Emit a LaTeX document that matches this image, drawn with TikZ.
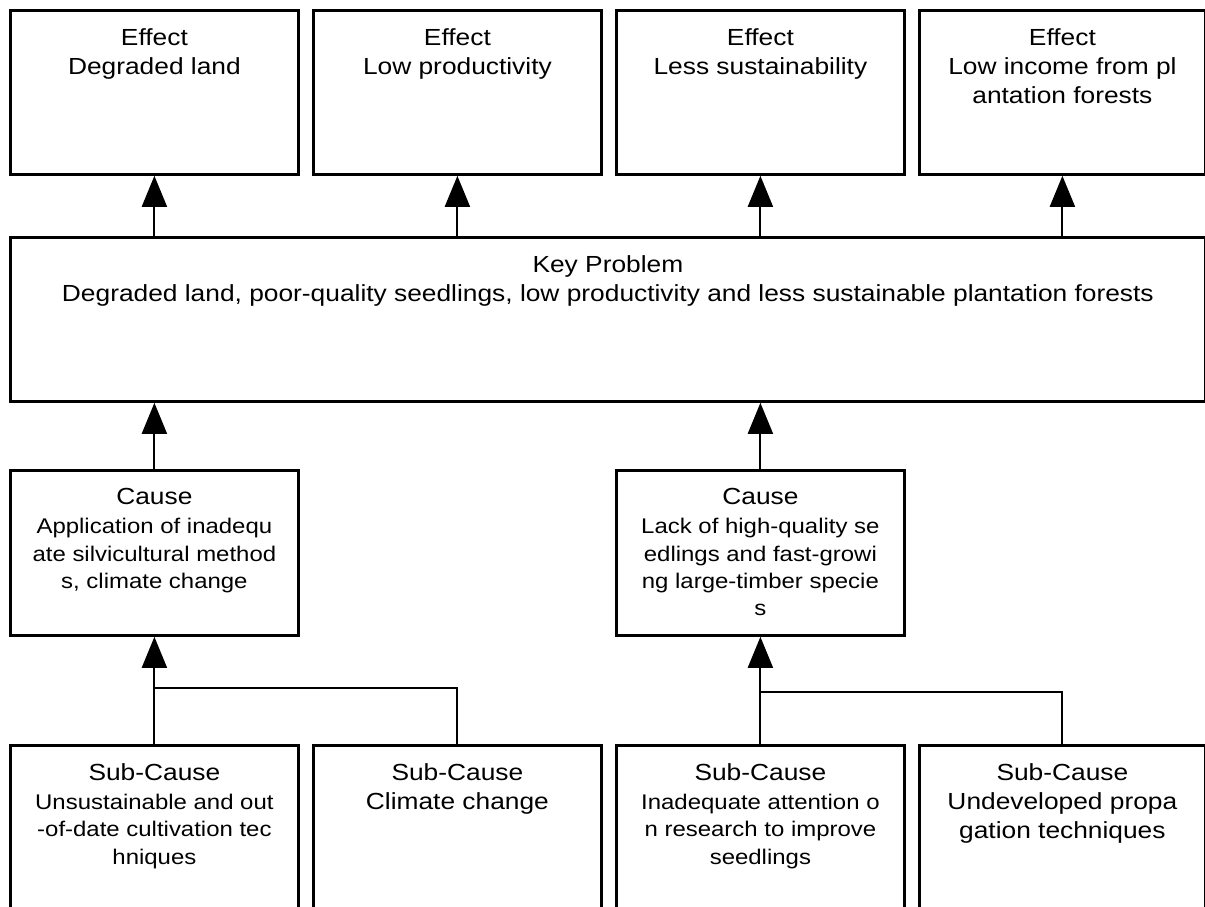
\documentclass[tikz,border=0pt]{standalone}
\usepackage{fontspec}
\setmainfont{Liberation Sans}[FakeStretch=1.13]
\usetikzlibrary{arrows.meta, positioning, calc}

\newcommand{\smtxt}{\fontsize{10.6}{13.6}\selectfont}

\tikzset{
  box/.style={draw, line width=1.4pt, anchor=north west, inner sep=0pt,
    minimum width=144pt, minimum height=82pt,
    label={[boxtext]north:#1}},
  boxtext/.style={anchor=north, align=center, inner sep=0pt, yshift=-9.5pt,
    font=\fontsize{11.65}{14.5}\selectfont},
  conn/.style={line width=1pt},
  arr/.style={conn, -{Triangle[width=12.5pt, length=15.5pt]}},
}

\begin{document}
\begin{tikzpicture}[x=0.5pt, y=-0.5pt]
    \useasboundingbox (0,0) rectangle (1205,906);
    \clip (0,0) rectangle (1205,906);

    % effects
    \node[box={Effect\\Degraded land}] (eff1) at (9,9) {};
    \node[box={Effect\\Low productivity}] (eff2) at (312,9) {};
    \node[box={Effect\\Less sustainability}] (eff3) at (615,9) {};
    \node[box={Effect\\Low income from pl\\antation forests}, minimum width=143pt] (eff4) at (918,9) {};

    % key problem
    \node[box={Key Problem\\Degraded land, poor-quality seedlings, low productivity and less sustainable plantation forests},
        minimum width=597.5pt] (key) at (9,236) {};

    % causes
    \node[box={Cause\\\smtxt Application of inadequ\\[-0.8pt]\smtxt ate silvicultural method\\[-0.8pt]\smtxt s, climate change},
        minimum height=82.5pt] (cause1) at (9,469) {};
    \node[box={Cause\\\smtxt Lack of high-quality se\\[-0.8pt]\smtxt edlings and fast-growi\\[-0.8pt]\smtxt ng large-timber specie\\[-0.8pt]\smtxt s},
        minimum height=82.5pt] (cause2) at (615,469) {};

    % sub-causes
    \node[box={Sub-Cause\\\smtxt Unsustainable and out\\[-0.8pt]\smtxt -of-date cultivation tec\\[-0.8pt]\smtxt hniques},
        minimum height=120pt] (sub1) at (9,744) {};
    \node[box={Sub-Cause\\Climate change}, minimum height=120pt] (sub2) at (312,744) {};
    \node[box={Sub-Cause\\\smtxt Inadequate attention o\\[-0.8pt]\smtxt n research to improve\\[-0.8pt]\smtxt seedlings},
        minimum height=120pt] (sub3) at (615,744) {};
    \node[box={Sub-Cause\\Undeveloped propa\\gation techniques}, minimum width=143pt,
        minimum height=120pt] (sub4) at (918,744) {};

    % key problem -> effects
    \foreach \e in {eff1, eff2, eff3, eff4}
        \draw[arr] (\e.south |- key.north) -- (\e.south);

    % causes -> key problem
    \draw[arr] (cause1.north) -- (cause1.north |- key.south);
    \draw[arr] (cause2.north) -- (cause2.north |- key.south);

    % sub-causes -> causes
    \path (cause1.south) ++(0,51) coordinate (join1);
    \path (cause2.south) ++(0,55) coordinate (join2);
    \draw[arr] (sub1.north) -- (cause1.south);
    \draw[conn] (sub2.north) |- (join1);
    \draw[arr] (sub3.north) -- (cause2.south);
    \draw[conn] (sub4.north) |- (join2);
\end{tikzpicture}
\end{document}
